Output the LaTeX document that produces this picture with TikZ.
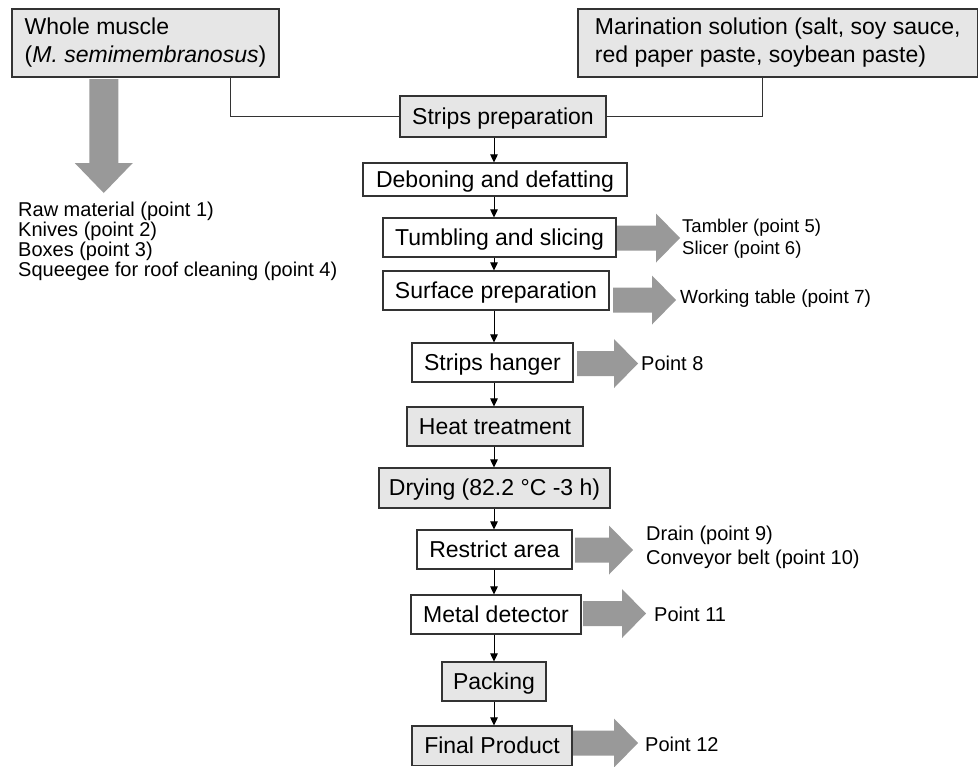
\documentclass[tikz,border=0pt]{standalone}
\usepackage{fontspec}
\setmainfont{Liberation Sans}
\usetikzlibrary{arrows.meta}
\definecolor{boxgrey}{HTML}{E6E6E6}
\definecolor{arrgrey}{HTML}{999999}
\definecolor{linegrey}{HTML}{333333}
\tikzset{
  boxbase/.style={draw=linegrey, line width=1.1pt, inner sep=0pt, font=\fontsize{23}{28}\selectfont},
  greybox/.style={boxbase, fill=boxgrey},
  whitebox/.style={boxbase, fill=white},
  flowtext/.style={text height=17pt, text depth=2pt},
  flowarrow/.style={draw=black, line width=0.9pt, -{Triangle[length=8pt,width=7.5pt]}},
  joinline/.style={draw=linegrey, line width=1pt},
  blockarrow/.style={fill=arrgrey, draw=none},
  sidetext/.style={anchor=west, inner sep=0pt, align=left, font=\fontsize{20}{24}\selectfont},
}
% box by corners: x1 x2 y1 y2
\newcommand{\mkbox}[7]{%
  \node[#1, minimum width={(#4)-(#3)}, minimum height={(#6)-(#5)}] (#2) at ({((#3)+(#4))/2},{((#5)+(#6))/2}) {#7};}
% block arrow: start x, tip x, centre y
\newcommand{\blockarr}[3]{%
  \fill[blockarrow] (#1,{#3-12.5}) -- ({#2-24},{#3-12.5}) -- ({#2-24},{#3-24.5}) -- (#2,#3) -- ({#2-24},{#3+24.5}) -- ({#2-24},{#3+12.5}) -- (#1,{#3+12.5}) -- cycle;}
\begin{document}
\begin{tikzpicture}[x=1pt,y=-1pt]
\useasboundingbox (0,0) rectangle (979,766);
\fill[white] (0,0) rectangle (979,766);

% top boxes
\mkbox{greybox, align=left}{whole}{12}{279}{9}{77}{Whole muscle\\(\textit{M. semimembranosus})}
\mkbox{greybox, align=left}{marin}{578}{977.5}{9}{77}{Marination solution (salt, soy sauce,\\red paper paste, soybean paste)}

% flow boxes
\mkbox{greybox, flowtext}{strips}{400}{606}{96}{137}{Strips preparation}
\mkbox{whitebox, flowtext}{debon}{363}{627}{163}{196}{Deboning and defatting}
\mkbox{whitebox, flowtext}{tumb}{383}{616}{218}{257}{Tumbling and slicing}
\mkbox{whitebox, flowtext}{surf}{383}{609}{271}{310}{Surface preparation}
\mkbox{whitebox, flowtext}{hanger}{412}{573}{343}{382}{Strips hanger}
\mkbox{greybox, flowtext}{heat}{407}{583}{407}{446}{Heat treatment}
\mkbox{greybox, flowtext}{dry}{379}{610}{468}{508}{Drying (82.2 °C -3 h)}
\mkbox{whitebox, flowtext}{restr}{417}{572}{530}{569}{Restrict area}
\mkbox{whitebox, flowtext}{metal}{411}{581}{595}{634}{Metal detector}
\mkbox{greybox, flowtext}{pack}{442}{546}{662}{701}{Packing}
\mkbox{greybox, flowtext}{final}{412}{572}{726}{765.5}{Final Product}

% joining lines to strips preparation
\coordinate (lcol) at (230.5,0);
\coordinate (rcol) at (762,0);
\draw[joinline] (whole.south -| lcol) |- (strips.west);
\draw[joinline] (marin.south -| rcol) |- (strips.east);

% flow arrows
\coordinate (col) at (494,0);
\foreach \a/\b in {strips/debon, debon/tumb, tumb/surf, surf/hanger, hanger/heat, heat/dry, dry/restr, restr/metal, metal/pack, pack/final}{
  \draw[flowarrow] (\a.south -| col) -- (\b.north -| col);
}

% big left arrow
\fill[blockarrow] (89.25,79) -- (118.25,79) -- (118.25,163) -- (132.75,163) -- (103.75,193) -- (74.75,163) -- (89.25,163) -- cycle;
\node[anchor=north west, inner sep=0pt, align=left, font=\fontsize{20}{20}\selectfont] (rawlist) at (18,201.5)
  {Raw material (point 1)\\Knives (point 2)\\Boxes (point 3)\\Squeegee for roof cleaning (point 4)};

% right block arrows
\blockarr{617}{680}{238}
\blockarr{613}{676}{300}
\blockarr{577}{638}{363.5}
\blockarr{575}{633}{550}
\blockarr{583}{646}{613.5}
\blockarr{573}{638}{743}

% side texts
\node[sidetext, font=\fontsize{18.5}{22}\selectfont] (t5) at (682,239) {Tambler (point 5)\\Slicer (point 6)};
\node[sidetext, font=\fontsize{19}{22}\selectfont] (t7) at (680,299) {Working table (point 7)};
\node[sidetext] (t8) at (641,363) {Point 8};
\node[sidetext] (t9) at (646,547) {Drain (point 9)\\Conveyor belt (point 10)};
\node[sidetext] (t11) at (654,614) {Point 11};
\node[sidetext] (t12) at (645,744) {Point 12};
\end{tikzpicture}
\end{document}
